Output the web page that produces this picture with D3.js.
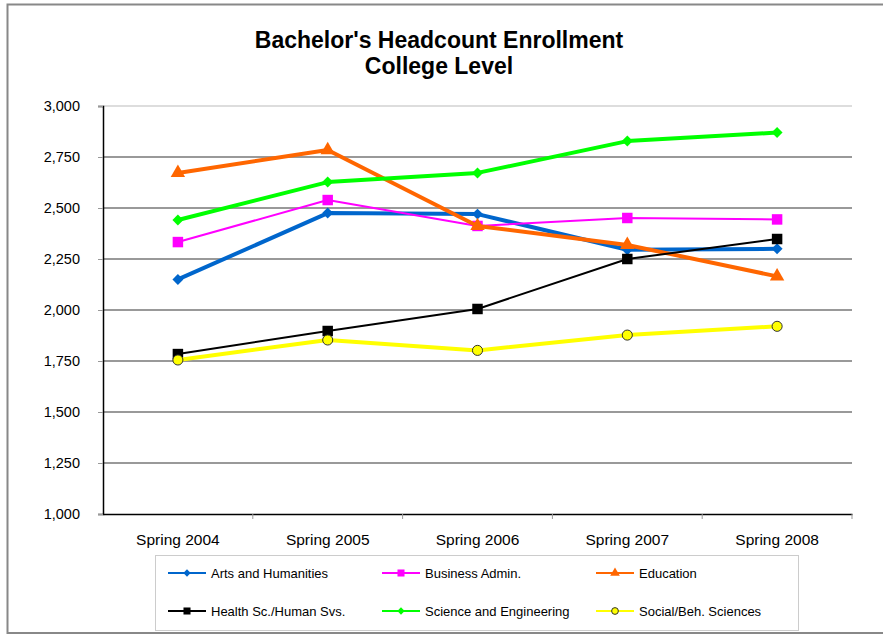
<!DOCTYPE html>
<html><head><meta charset="utf-8">
<script src="https://cdn.jsdelivr.net/npm/d3@7/dist/d3.min.js"></script>
<style>body{margin:0;background:#fff;font-family:"Liberation Sans",Arial,sans-serif}</style>
</head><body><svg id="c" width="883" height="635"></svg>
<script>
const categories = ["Spring 2004","Spring 2005","Spring 2006","Spring 2007","Spring 2008"];
const artsHumanities = [2150,2475,2470,2295,2300];
const businessAdmin = [2333,2539,2412,2451,2444];
const education = [2672,2784,2412,2319,2165];
const healthSc = [1784,1897,2005,2250,2348];
const scienceEng = [2441,2627,2672,2828,2870];
const socialBeh = [1755,1853,1802,1877,1920];
const yTicks = [1000,1250,1500,1750,2000,2250,2500,2750,3000];
const seriesNames = ["Arts and Humanities","Business Admin.","Education","Health Sc./Human Svs.","Science and Engineering","Social/Beh. Sciences"];

const series = [
 {name:seriesNames[0], values:artsHumanities, color:"#0066CC", width:4, marker:"diamond", size:60, fill:"#0066CC", stroke:"none"},
 {name:seriesNames[1], values:businessAdmin, color:"#FF00FF", width:2, marker:"square", size:110, fill:"#FF00FF", stroke:"none"},
 {name:seriesNames[2], values:education, color:"#FF6600", width:4, marker:"triangle", size:90, fill:"#FF6600", stroke:"none"},
 {name:seriesNames[3], values:healthSc, color:"#000000", width:2, marker:"square", size:110, fill:"#000000", stroke:"none"},
 {name:seriesNames[4], values:scienceEng, color:"#00FF00", width:4, marker:"diamond", size:60, fill:"#00FF00", stroke:"none"},
 {name:seriesNames[5], values:socialBeh, color:"#FFFF00", width:4, marker:"circle", size:80, fill:"#FFFF00", stroke:"#333"}
];

const svg = d3.select("#c");
svg.append("rect").attr("x",7.5).attr("y",4.5).attr("width",890).attr("height",628.5)
  .attr("fill","none").attr("stroke","#888").attr("stroke-width",2);

svg.append("text").attr("x",439).attr("y",48).attr("text-anchor","middle")
  .attr("font-size",23).attr("font-weight","bold").text("Bachelor's Headcount Enrollment");
svg.append("text").attr("x",439).attr("y",74).attr("text-anchor","middle")
  .attr("font-size",23).attr("font-weight","bold").text("College Level");

const L=103, R=852, T=106, B=514;
const x = d3.scaleBand().domain(categories).range([L,R]);
const y = d3.scaleLinear().domain([1000,3000]).range([B,T]);

svg.append("g").selectAll("line").data(yTicks.filter(d=>d>1000)).join("line")
  .attr("x1",L).attr("x2",R).attr("y1",d=>y(d)).attr("y2",d=>y(d))
  .attr("stroke",d=>d===3000?"#ddd":"#999").attr("stroke-width",2);

const yAxis = svg.append("g").attr("transform",`translate(${L},0)`)
  .call(d3.axisLeft(y).tickValues(yTicks).tickFormat(d3.format(",")).tickSize(5).tickPadding(18));
yAxis.select(".domain").attr("stroke","#000").attr("stroke-width",1.5);
yAxis.selectAll(".tick line").attr("stroke","#999");
yAxis.selectAll("text").attr("font-size",14.5).attr("font-family","Liberation Sans, Arial, sans-serif").attr("fill","#000");

const xAxis = svg.append("g").attr("transform",`translate(0,${B})`)
  .call(d3.axisBottom(x).tickSize(0).tickPadding(20));
xAxis.select(".domain").attr("stroke","#000").attr("stroke-width",1.5);
xAxis.selectAll("text").attr("font-size",15.5).attr("font-family","Liberation Sans, Arial, sans-serif").attr("fill","#000");
svg.append("g").selectAll("line").data(categories.slice(1).concat(["__end"])).join("line")
  .attr("x1",d=>d==="__end"?R:x(d)).attr("x2",d=>d==="__end"?R:x(d))
  .attr("y1",B).attr("y2",B+5).attr("stroke","#999");

const squareDiamond = {draw(ctx,size){const r=Math.sqrt(size/2);ctx.moveTo(0,-r);ctx.lineTo(r,0);ctx.lineTo(0,r);ctx.lineTo(-r,0);ctx.closePath();}};
const symType = {diamond:squareDiamond, square:d3.symbolSquare, triangle:d3.symbolTriangle, circle:d3.symbolCircle};
const cx = c => x(c)+x.bandwidth()/2;
const line = d3.line().x((d,i)=>cx(categories[i])).y(d=>y(d));

series.forEach(s=>{
  const g = svg.append("g");
  g.append("path").attr("d",line(s.values)).attr("fill","none")
    .attr("stroke",s.color).attr("stroke-width",s.width).attr("stroke-linejoin","round");
  g.selectAll("path.m").data(s.values).join("path").attr("class","m")
    .attr("transform",(d,i)=>`translate(${cx(categories[i])},${y(d)})`)
    .attr("d",d3.symbol().type(symType[s.marker]).size(s.size))
    .attr("fill",s.fill).attr("stroke",s.stroke).attr("stroke-width",1);
});

svg.append("rect").attr("x",155.5).attr("y",555.5).attr("width",643).attr("height",75)
  .attr("fill","#fff").attr("stroke","#ccc");
const colX = [168,382,596], rowY = [573,611];
series.forEach((s,i)=>{
  const lx = colX[i%3], ly = rowY[Math.floor(i/3)];
  const g = svg.append("g");
  g.append("line").attr("x1",lx).attr("x2",lx+38).attr("y1",ly).attr("y2",ly)
    .attr("stroke",s.color).attr("stroke-width",2);
  g.append("path").attr("transform",`translate(${lx+19},${ly})`)
    .attr("d",d3.symbol().type(symType[s.marker]).size(s.size*0.45))
    .attr("fill",s.fill).attr("stroke",s.stroke).attr("stroke-width",1);
  g.append("text").attr("x",lx+43).attr("y",ly+5).attr("font-size",13).text(s.name);
});
</script></body></html>
